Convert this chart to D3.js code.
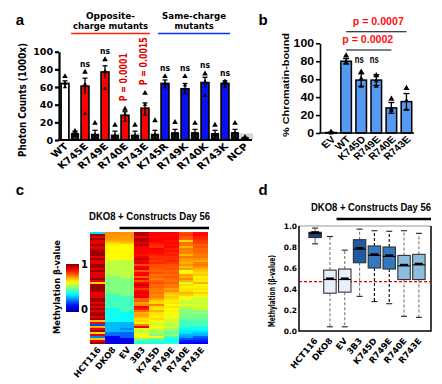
<!DOCTYPE html>
<html>
<head>
<meta charset="utf-8">
<script src="https://cdn.jsdelivr.net/npm/d3@7"></script>
<style>
body { margin: 0; background: #fff; }
svg { display: block; }
</style>
</head>
<body>
<svg id="fig" width="442" height="384"></svg>
<script>
// ---------- data: panel a (photon counts, 1000x) ----------
const aCats = ["WT","c1","K745E","c2","R749E","c3","R740E","c4","R743E","c5",
               "K745R","c6","R749K","c7","R740K","c8","R743K","c9","NCP"];
const aKind = ["wt","ctl","opp","ctl","opp","ctl","opp","ctl","opp","ctl",
               "same","ctl","same","ctl","same","ctl","same","ctl","ncp"];
const aVals = [64,7,61,6,77,5,28,5,36,6,64,8,58,8,65,7,64,8,2];
const aErr  = [3,3,9,5,7,5,4,5,6,5,4,4,6,4,6,4,3,4,1];
const aPts  = [[72,64,60],[10,7,5],[77,63,30],[19,6,3],[91,78,58],[17,5,2],[35,29,22],[17,5,2],
               [53,40,29],[22,6,2],[72,64,60],[20,7,3],[72,62,53],[19,7,3],[75,66,50],[17,6,2],
               [66,64,60],[19,8,3],[3,2,1]];
const aNs = ["K745E","R749E","K745R","R749K","R740K","R743K"];
const aPCats = ["R740E","R743E"];
const aPLabels = ["P = 0.0001","P = 0.0015"];
const aNoise = 7.5;
const aTicks = [0,20,40,60,80,100];

// ---------- data: panel b (% chromatin-bound) ----------
const bCats = ["EV","WT","K745D","R749E","R740E","R743E"];
const bVals = [0.5,80,59,59,28,35];
const bErr  = [0.5,3,7,6,6,9];
const bPts  = [[1,0.5,0],[86,80,78],[68,61,52],[64,58,52],[38,27,25],[50,36,26]];
const bNs = ["K745D","R749E"];
const bPFrom = ["WT","WT"];
const bPTo = ["R743E","R740E"];
const bPLabels = ["p = 0.0007","p = 0.0002"];
const bTicks = [0,20,40,60,80,100];

// ---------- data: panel c (heatmap of methylation beta values) ----------
const cCols = ["HCT116","DKO8","EV","3B3","K745D","R749E","R740E","R743E"];
const cHCT116 = [0.35,0.97,0.9,0.97,0.9,0.9,0.97,0.9,0.91,0.97,
  0.97,0.97,0.9,0.97,0.9,0.9,0.97,0.97,0.9,0.97,
  0.9,0.9,0.91,0.97,0.9,0.66,0.97,0.97,0.97,0.97,
  0.9,0.9,0.9,0.97,0.97,0.9,0.97,0.9,0.97,0.9,
  0.97,0.97,0.9,0.97,0.68,0.88,0.2,0.7,0.9,0.97,
  0.66,0.9,0.25,0.68,0.9,0.97];
const cDKO8 = [0.74,0.73,0.73,0.72,0.7,
  0.66,0.64,0.63,0.63,0.63,0.63,0.63,0.62,0.62,
  0.57,0.57,0.56,0.56,0.56,0.56,0.55,0.55,
  0.51,0.5,0.5,0.5,0.5,0.5,0.5,0.5,0.49,
  0.44,0.44,0.44,0.44,0.44,0.44,0.44,
  0.39,0.39,0.39,0.39,0.39,0.39,0.39,
  0.31,0.31,0.31,0.31,0.31,
  0.23,0.23,
  0.12,0.1,0.1,0.09];
const cEV = [0.73,0.73,0.72,0.72,0.71,
  0.68,
  0.63,0.63,0.63,0.63,0.63,0.63,0.63,0.63,
  0.56,0.56,0.56,0.56,0.56,0.56,0.56,0.56,0.56,
  0.5,0.5,0.5,0.5,0.5,0.5,0.5,0.5,0.5,
  0.44,0.44,0.44,0.44,0.44,0.44,0.44,0.44,
  0.38,0.38,0.38,0.38,0.38,
  0.3,0.3,0.3,0.26,0.3,
  0.22,0.22,0.22,
  0.11,0.1,0.09];
const c3B3 = [0.95,0.95,0.88,0.95,0.95,0.9,0.95,0.88,0.88,0.87,
  0.88,0.86,0.88,0.95,0.88,0.89,0.8,0.88,0.9,0.79,
  0.87,0.88,0.78,0.88,0.8,0.87,0.93,0.88,0.82,0.87,
  0.9,0.88,0.9,0.78,0.79,0.72,0.74,0.88,0.85,0.77,
  0.7,0.72,0.69,0.66,0.66,0.64,0.75,0.88,0.6,0.57,
  0.58,0.63,0.62,0.5,0.45,0.42];
const cK745D = [0.88,0.88,0.87,0.88,0.88,0.86,0.84,0.83,0.88,0.87,
  0.87,0.85,0.83,0.84,0.82,0.84,0.8,0.8,0.79,0.78,
  0.8,0.76,0.78,0.75,0.78,0.8,0.77,0.78,0.76,0.75,
  0.76,0.74,0.75,0.72,0.67,0.66,0.75,0.66,0.65,0.7,
  0.65,0.65,0.64,0.66,0.63,0.6,0.58,0.61,0.58,0.55,
  0.54,0.5,0.62,0.47,0.43,0.4];
const cR749E = [0.88,0.87,0.88,0.88,0.86,0.87,0.86,0.87,0.85,0.86,
  0.84,0.85,0.83,0.83,0.84,0.82,0.8,0.79,0.8,0.78,
  0.79,0.77,0.79,0.77,0.76,0.78,0.75,0.76,0.72,0.74,
  0.69,0.66,0.68,0.66,0.64,0.65,0.63,0.65,0.62,0.64,
  0.63,0.6,0.62,0.59,0.58,0.57,0.55,0.58,0.52,0.5,
  0.47,0.52,0.44,0.4,0.38,0.42];
const cR740E = [0.8,0.82,0.79,0.78,0.66,0.77,0.76,0.7,0.76,0.74,
  0.75,0.7,0.76,0.73,0.72,0.7,0.73,0.69,0.72,0.62,
  0.63,0.72,0.7,0.74,0.7,0.58,0.66,0.64,0.65,0.66,
  0.7,0.67,0.6,0.62,0.58,0.56,0.6,0.55,0.53,0.5,
  0.52,0.48,0.5,0.47,0.45,0.43,0.44,0.42,0.38,0.36,
  0.35,0.3,0.28,0.2,0.15,0.13];
const cR743E = [0.86,0.87,0.85,0.84,0.82,0.81,0.78,0.79,0.77,0.78,
  0.77,0.75,0.76,0.74,0.71,0.75,0.76,0.73,0.7,0.68,
  0.66,0.68,0.64,0.65,0.64,0.7,0.63,0.64,0.65,0.63,
  0.67,0.64,0.6,0.58,0.59,0.56,0.57,0.6,0.56,0.5,
  0.52,0.48,0.5,0.47,0.46,0.44,0.45,0.4,0.39,0.36,
  0.32,0.3,0.22,0.18,0.15,0.1];
const cData = [cHCT116,cDKO8,cEV,c3B3,cK745D,cR749E,cR740E,cR743E];

// ---------- data: panel d (box plots of beta values) ----------
const dCats = ["HCT116","DKO8","EV","3B3","K745D","R749E","R740E","R743E"];
const dMin = [0.83,0.04,0.04,0.33,0.28,0.26,0.14,0.13];
const dQ1  = [0.89,0.36,0.37,0.65,0.6,0.59,0.49,0.49];
const dMed = [0.93,0.49,0.49,0.78,0.72,0.71,0.62,0.63];
const dQ3  = [0.94,0.58,0.59,0.87,0.81,0.8,0.72,0.73];
const dMax = [0.98,0.9,0.77,0.97,0.955,0.95,0.955,0.93];
const dRef = 0.47;
const dTicks = [0,0.2,0.4,0.6,0.8,1.0];

const HEAVY = "'DejaVu Sans', sans-serif";
const ARIAL = "'Liberation Sans', Arial, sans-serif";

const svg = d3.select("#fig");

// small helper for all the text bits
// when a fixed length is given the text is laid out from its start so the stretch is predictable
function addText(parent, str, x, y, o) {
  let tf = `translate(${x},${y})`;
  if (o.sx) tf += ` scale(${o.sx},1)`;
  if (o.rot) tf += ` rotate(${o.rot})`;
  const anchor = o.anchor || "middle";
  const t = parent.append("text")
    .attr("transform", tf)
    .attr("font-family", o.fam || HEAVY)
    .attr("font-size", o.size)
    .attr("font-weight", "bold")
    .attr("fill", o.fill || "#000")
    .text(str);
  if (o.len) {
    const off = anchor === "middle" ? -o.len / 2 : anchor === "end" ? -o.len : 0;
    t.attr("x", off).attr("text-anchor", "start")
      .attr("textLength", o.len).attr("lengthAdjust", "spacingAndGlyphs");
  } else {
    t.attr("text-anchor", anchor);
  }
  return t;
}

function styleAxis(g, fs, w) {
  g.select(".domain").attr("stroke-width", w);
  g.selectAll(".tick line").attr("stroke-width", w);
  g.selectAll(".tick text").attr("font-family", HEAVY).attr("font-weight", "bold")
    .attr("font-size", fs).attr("fill", "#000");
}

// ================= panel a =================
const ga = svg.append("g");
const xa = d3.scaleBand().domain(aCats).range([60, 250]).paddingInner(0.22).paddingOuter(0.11);
const ya = d3.scaleLinear().domain([0, 100]).range([140, 51.7]);
const aColor = d3.scaleOrdinal().domain(["wt","ctl","opp","same","ncp"])
  .range(["#ffffff","#222222","#ff0000","#0a10f0","#222222"]);

addText(ga, "a", 20, 25, {size: 15, fam: ARIAL});

// background noise band
ga.append("rect")
  .attr("x", xa("c1") - 1).attr("width", xa("NCP") + xa.bandwidth() + 4 - (xa("c1") - 1))
  .attr("y", ya(aNoise)).attr("height", ya(0) - ya(aNoise))
  .attr("fill", "#d4d4d4");

// bars
ga.selectAll(".abar").data(aCats).enter().append("rect")
  .attr("class", "abar")
  .attr("x", (d, i) => xa(d) + (aKind[i] === "ctl" || aKind[i] === "ncp" ? 0.8 : 0))
  .attr("width", (d, i) => xa.bandwidth() - (aKind[i] === "ctl" || aKind[i] === "ncp" ? 1.6 : 0))
  .attr("y", (d, i) => ya(aVals[i]))
  .attr("height", (d, i) => ya(0) - ya(aVals[i]))
  .attr("fill", (d, i) => aColor(aKind[i]))
  .attr("stroke", "#000").attr("stroke-width", 1.7);

// error bars
aCats.forEach((c, i) => {
  const cx = xa(c) + xa.bandwidth() / 2;
  const lo = ya(Math.max(0, aVals[i] - aErr[i])), hi = ya(aVals[i] + aErr[i]);
  ga.append("line").attr("x1", cx).attr("x2", cx).attr("y1", lo).attr("y2", hi)
    .attr("stroke", "#000").attr("stroke-width", 1.3);
  ga.append("line").attr("x1", cx - 2.5).attr("x2", cx + 2.5).attr("y1", hi).attr("y2", hi)
    .attr("stroke", "#000").attr("stroke-width", 1.3);
  // individual points as triangles, the highest one drawn a little bigger
  aPts[i].forEach((p, k) => {
    ga.append("path").attr("d", d3.symbol(d3.symbolTriangle, k === 0 ? 14 : 8)())
      .attr("transform", `translate(${cx},${ya(p)})`).attr("fill", "#000");
  });
});

// axes
const axA = ga.append("g").attr("transform", "translate(59,0)")
  .call(d3.axisLeft(ya).tickValues(aTicks).tickSize(4).tickSizeOuter(0).tickPadding(2));
styleAxis(axA, 9.5, 2.2);
ga.append("line").attr("x1", 58).attr("x2", 252).attr("y1", ya(0)).attr("y2", ya(0))
  .attr("stroke", "#000").attr("stroke-width", 2.2);

addText(ga, "Photon Counts (1000x)", 26, 100, {size: 10, rot: -90, len: 114});

// category labels
aCats.forEach((c, i) => {
  if (aKind[i] === "ctl") return;
  addText(ga, c, xa(c) + xa.bandwidth() / 2 + 4, 147, {size: 9, anchor: "end", sx: 1.2, rot: -45});
});

// group headers
const oppX = [xa("c1"), xa("R743E") + xa.bandwidth() + 1];
const sameX = [xa("K745R") - 3, xa("c9") - 1];
ga.append("line").attr("x1", oppX[0]).attr("x2", oppX[1]).attr("y1", 33.5).attr("y2", 33.5)
  .attr("stroke", "#ff2000").attr("stroke-width", 1.6);
ga.append("line").attr("x1", sameX[0]).attr("x2", sameX[1]).attr("y1", 33.5).attr("y2", 33.5)
  .attr("stroke", "#0a30f0").attr("stroke-width", 1.6);
const oppMid = (oppX[0] + oppX[1]) / 2, sameMid = (sameX[0] + sameX[1]) / 2;
addText(ga, "Opposite-", oppMid, 19, {size: 9.5, len: 49});
addText(ga, "charge mutants", oppMid, 28.5, {size: 9.5, len: 75});
addText(ga, "Same-charge", sameMid, 19, {size: 9.5, len: 64});
addText(ga, "mutants", sameMid, 28.5, {size: 9.5, len: 39});

// ns labels and P values
aNs.forEach(c => {
  const i = aCats.indexOf(c);
  addText(ga, "ns", xa(c) + xa.bandwidth() / 2, ya(d3.max(aPts[i]) + 6), {size: 8, len: 10});
});
aPCats.forEach((c, k) => {
  const i = aCats.indexOf(c);
  addText(ga, aPLabels[k], xa(c) + xa.bandwidth() / 2 + 2, ya(d3.max(aPts[i]) + 9),
    {size: 10, rot: -90, anchor: "start", len: 48, fill: "#e00000"});
});

// ================= panel b =================
const gb = svg.append("g");
const xb = d3.scaleBand().domain(bCats).range([323.5, 414]).paddingInner(0.3).paddingOuter(0.15);
const yb = d3.scaleLinear().domain([0, 100]).range([133, 43.3]);

addText(gb, "b", 263, 25, {size: 15, fam: ARIAL});

gb.selectAll(".bbar").data(bCats).enter().append("rect")
  .attr("x", d => xb(d)).attr("width", xb.bandwidth())
  .attr("y", (d, i) => yb(bVals[i])).attr("height", (d, i) => yb(0) - yb(bVals[i]))
  .attr("fill", "#5599f0").attr("stroke", "#000").attr("stroke-width", 1.5);

bCats.forEach((c, i) => {
  const cx = xb(c) + xb.bandwidth() / 2;
  const lo = yb(Math.max(0, bVals[i] - bErr[i])), hi = yb(bVals[i] + bErr[i]);
  gb.append("line").attr("x1", cx).attr("x2", cx).attr("y1", lo).attr("y2", hi)
    .attr("stroke", "#000").attr("stroke-width", 1.3);
  [lo, hi].forEach(yy => gb.append("line").attr("x1", cx - 3).attr("x2", cx + 3)
    .attr("y1", yy).attr("y2", yy).attr("stroke", "#000").attr("stroke-width", 1.3));
  bPts[i].forEach((p, k) => {
    gb.append("path").attr("d", d3.symbol(d3.symbolTriangle, k === 0 ? 16 : 10)())
      .attr("transform", `translate(${cx},${yb(p)})`).attr("fill", "#000");
  });
});

const axB = gb.append("g").attr("transform", "translate(320,0)")
  .call(d3.axisLeft(yb).tickValues(bTicks).tickSize(4).tickSizeOuter(0).tickPadding(2));
styleAxis(axB, 9.5, 1.6);
axB.selectAll(".tick text").attr("font-family", ARIAL).attr("font-size", 10)
  .attr("textLength", d => String(d).length * 6.8).attr("lengthAdjust", "spacingAndGlyphs");
gb.append("line").attr("x1", 319).attr("x2", 414).attr("y1", yb(0)).attr("y2", yb(0))
  .attr("stroke", "#000").attr("stroke-width", 1.6);

addText(gb, "% Chromatin-bound", 289, 85, {size: 9.5, rot: -90, len: 104, fam: ARIAL});

bCats.forEach(c => {
  addText(gb, c, xb(c) + xb.bandwidth() / 2 + 5, 140, {size: 9.5, anchor: "end", sx: 1.15, rot: -45, fam: ARIAL});
});

bNs.forEach(c => {
  addText(gb, "ns", xb(c) + xb.bandwidth() / 2 - 2, yb(bVals[0] + 77), {size: 10, len: 9, fam: ARIAL});
});

const pLineY = [31.7, 50];
const pTextY = [25, 43];
bPLabels.forEach((lab, k) => {
  const x1 = xb(bPFrom[k]) + xb.bandwidth() / 2, x2 = xb(bPTo[k]) + xb.bandwidth() / 2;
  gb.append("line").attr("x1", x1).attr("x2", x2).attr("y1", pLineY[k]).attr("y2", pLineY[k])
    .attr("stroke", "#000").attr("stroke-width", 1.1);
  addText(gb, lab, (x1 + x2) / 2 + (k === 0 ? 2 : -1), pTextY[k], {size: 10, len: 51, fam: ARIAL, fill: "#ff1010"});
});

// ================= panel c =================
const gc = svg.append("g");
const rows = d3.range(cHCT116.length);
const xc = d3.scaleBand().domain(cCols).range([90, 208]);
const yc = d3.scaleBand().domain(rows).range([232, 344]);
const jet = d3.scaleLinear()
  .domain([0, 0.125, 0.375, 0.625, 0.875, 1])
  .range(["#00008f", "#0000ff", "#00ffff", "#ffff00", "#ff0000", "#800000"]);

addText(gc, "c", 20, 195, {size: 15, fam: ARIAL});

cCols.forEach((c, j) => {
  gc.selectAll(".cell" + j).data(cData[j]).enter().append("rect")
    .attr("x", xc(c)).attr("width", xc.bandwidth() + 0.3)
    .attr("y", (d, i) => yc(i)).attr("height", yc.bandwidth() + 0.3)
    .attr("fill", d => jet(d))
    .attr("shape-rendering", "crispEdges");
});

addText(gc, "DKO8 + Constructs Day 56", 149.5, 220, {size: 10, len: 121, fam: ARIAL});
gc.append("line").attr("x1", xc("EV")).attr("x2", 209).attr("y1", 228).attr("y2", 228)
  .attr("stroke", "#000").attr("stroke-width", 2.5);

cCols.forEach(c => {
  addText(gc, c, xc(c) + xc.bandwidth() / 2 + 4, 350, {size: 8.5, anchor: "end", rot: -50});
});

// colour bar
const defs = svg.append("defs");
const grad = defs.append("linearGradient").attr("id", "jetgrad")
  .attr("x1", 0).attr("x2", 0).attr("y1", 1).attr("y2", 0);
d3.range(0, 1.01, 0.05).forEach(t => {
  grad.append("stop").attr("offset", t).attr("stop-color", jet(t));
});
const cbY = d3.scaleLinear().domain([0, 1]).range([312, 264]);
gc.append("rect").attr("x", 66).attr("width", 13)
  .attr("y", cbY(1)).attr("height", cbY(0) - cbY(1)).attr("fill", "url(#jetgrad)");
addText(gc, "1", 81, cbY(1) + 4, {size: 10, anchor: "start"});
addText(gc, "0", 81, cbY(0) + 1, {size: 10, anchor: "start"});
addText(gc, "Methylation β-value", 60, 287, {size: 9.5, rot: -90, len: 94});

// ================= panel d =================
const gd = svg.append("g");
const xd = d3.scaleBand().domain(dCats).range([307.7, 426.3]).paddingInner(0.16).paddingOuter(0.08);
const yd = d3.scaleLinear().domain([0, 1]).range([331, 226]);
const dColor = d3.scaleOrdinal().domain(dCats)
  .range(["#1b3f80","#e8eefc","#e8eefc","#1f5aa6","#3479bf","#3479bf","#8cbddf","#8cbddf"]);

addText(gd, "d", 263, 195, {size: 15, fam: ARIAL});
addText(gd, "DKO8 + Constructs Day 56", 371, 210.5, {size: 10, len: 120, fam: ARIAL});
gd.append("line").attr("x1", xd("EV") - 2).attr("x2", 431).attr("y1", 219).attr("y2", 219)
  .attr("stroke", "#000").attr("stroke-width", 2.5);

// frame
gd.append("line").attr("x1", 299).attr("x2", 431).attr("y1", yd(1)).attr("y2", yd(1))
  .attr("stroke", "#cccccc").attr("stroke-width", 2);
gd.append("path").attr("d", `M299,${yd(1)}V${yd(0)}H431V${yd(1)}`)
  .attr("fill", "none").attr("stroke", "#000").attr("stroke-width", 1.5);

// reference line
gd.append("line").attr("x1", 299).attr("x2", 431).attr("y1", yd(dRef)).attr("y2", yd(dRef))
  .attr("stroke", "#e00000").attr("stroke-width", 1.2).attr("stroke-dasharray", "3,2");

dCats.forEach((c, i) => {
  const x0 = xd(c), w = xd.bandwidth(), cx = x0 + w / 2;
  const wc = (i === 4 || i === 5) ? "#000" : "#777";
  // whiskers
  gd.append("line").attr("x1", cx).attr("x2", cx).attr("y1", yd(dQ3[i])).attr("y2", yd(dMax[i]))
    .attr("stroke", wc).attr("stroke-width", 1.1).attr("stroke-dasharray", i === 0 ? null : "3,2");
  gd.append("line").attr("x1", cx).attr("x2", cx).attr("y1", yd(dQ1[i])).attr("y2", yd(dMin[i]))
    .attr("stroke", wc).attr("stroke-width", 1.1).attr("stroke-dasharray", i === 0 ? null : "3,2");
  [dMin[i], dMax[i]].forEach(v => gd.append("line")
    .attr("x1", cx - 3).attr("x2", cx + 3).attr("y1", yd(v)).attr("y2", yd(v))
    .attr("stroke", "#222").attr("stroke-width", 1.1));
  // box
  gd.append("rect").attr("x", x0).attr("width", w)
    .attr("y", yd(dQ3[i])).attr("height", yd(dQ1[i]) - yd(dQ3[i]))
    .attr("fill", dColor(c)).attr("stroke", "#333").attr("stroke-width", 1.1);
  // median + mean mark
  gd.append("line").attr("x1", x0).attr("x2", x0 + w).attr("y1", yd(dMed[i])).attr("y2", yd(dMed[i]))
    .attr("stroke", "#000").attr("stroke-width", 1.1);
  gd.append("line").attr("x1", cx - 4).attr("x2", cx + 4).attr("y1", yd(dMed[i]) - 1).attr("y2", yd(dMed[i]) - 1)
    .attr("stroke", "#000").attr("stroke-width", 2.2);
});

const axD = gd.append("g").attr("transform", "translate(299,0)")
  .call(d3.axisLeft(yd).tickValues(dTicks).tickSize(0).tickPadding(2).tickFormat(d3.format(".1f")));
styleAxis(axD, 7.5, 0);
axD.select(".domain").remove();

addText(gd, "Methylation (β-value)", 275, 291, {size: 9.5, rot: -90, len: 72});

dCats.forEach(c => {
  addText(gd, c, xd(c) + xd.bandwidth() / 2 + 3, 341, {size: 8.5, anchor: "end", rot: -50});
});
</script>
</body>
</html>
